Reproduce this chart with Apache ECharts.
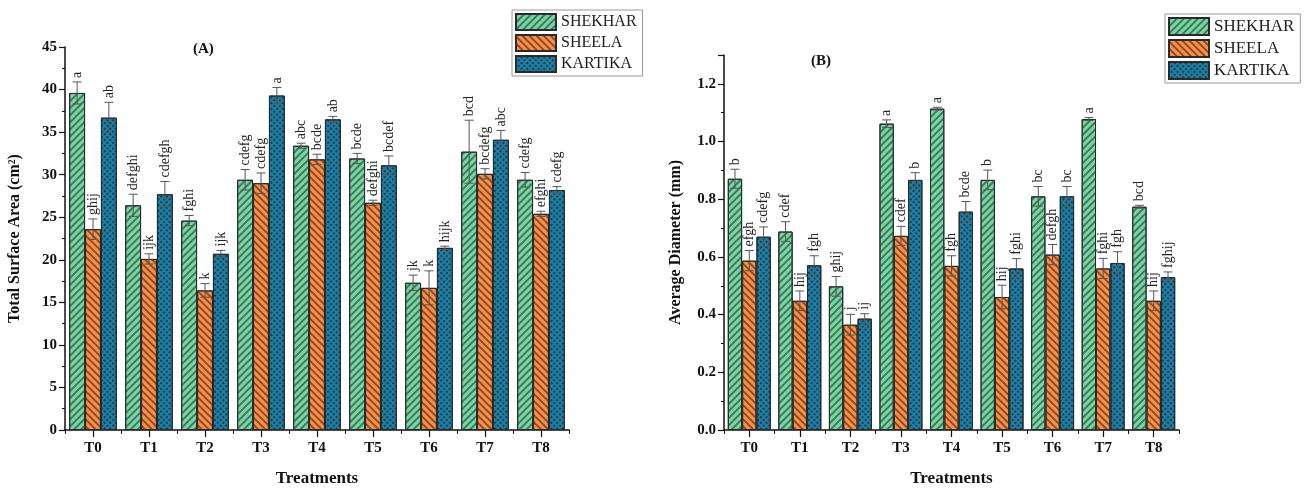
<!DOCTYPE html>
<html>
<head>
<meta charset="utf-8">
<script src="https://cdn.jsdelivr.net/npm/echarts@6/dist/echarts.min.js"></script>
<style>html,body{margin:0;padding:0;background:#fff;}#c{width:1312px;height:492px;}</style>
</head>
<body>
<div id="c"></div>
<script>
var categories = ['T0','T1','T2','T3','T4','T5','T6','T7','T8'];
var seriesNames = ['SHEKHAR','SHEELA','KARTIKA'];

var tsaShekhar = [39.6, 26.4, 24.6, 29.4, 33.4, 31.9, 17.3, 32.7, 29.4];
var tsaShekharErr = [1.3, 1.3, 0.6, 1.2, 0.3, 0.6, 0.9, 3.7, 0.85];
var tsaSheela = [23.6, 20.1, 16.4, 29.0, 31.8, 26.7, 16.7, 30.1, 25.4];
var tsaSheelaErr = [1.2, 0.6, 0.8, 1.2, 0.6, 0.3, 2.0, 0.6, 0.3];
var tsaKartika = [36.7, 27.7, 20.7, 39.3, 36.5, 31.1, 21.4, 34.1, 28.2];
var tsaKartikaErr = [1.8, 1.5, 0.4, 0.95, 0.35, 1.1, 0.2, 1.1, 0.4];
var tsaShekharLetters = ['a','defghi','fghi','cdefg','abc','bcde','jk','bcd','cdefg'];
var tsaSheelaLetters = ['ghij','ijk','k','cdefg','bcde','defghi','k','bcdefg','efghi'];
var tsaKartikaLetters = ['ab','cdefgh','ijk','a','ab','bcdef','hijk','abc','cdefg'];

var diaShekhar = [0.871, 0.688, 0.498, 1.062, 1.114, 0.867, 0.810, 1.078, 0.774];
var diaShekharErr = [0.033, 0.034, 0.034, 0.013, 0.005, 0.034, 0.034, 0.005, 0.005];
var diaSheela = [0.587, 0.448, 0.365, 0.673, 0.569, 0.461, 0.608, 0.560, 0.448];
var diaSheelaErr = [0.035, 0.034, 0.036, 0.033, 0.035, 0.041, 0.035, 0.035, 0.034];
var diaKartika = [0.670, 0.571, 0.386, 0.867, 0.757, 0.560, 0.810, 0.579, 0.530];
var diaKartikaErr = [0.034, 0.033, 0.017, 0.025, 0.035, 0.034, 0.034, 0.039, 0.018];
var diaShekharLetters = ['b','cdef','ghij','a','a','b','bc','a','bcd'];
var diaSheelaLetters = ['efgh','hij','j','cdef','fgh','hij','defgh','fghi','hij'];
var diaKartikaLetters = ['cdefg','fgh','ij','b','bcde','fghi','bc','fgh','fghij'];

var leftTicks = [0,5,10,15,20,25,30,35,40,45];

var FONT = 'Liberation Serif';
var fills = ['#7fd3a7', '#f5934e', '#1f7ea0'];
var decals = [
  {symbol:'rect', symbolSize:1, dashArrayX:[1,0], dashArrayY:[1.5,2.5], rotation:-Math.PI/4, color:'rgba(30,100,60,0.75)'},
  {symbol:'rect', symbolSize:1, dashArrayX:[1,0], dashArrayY:[1.5,2.5], rotation:Math.PI/4, color:'rgba(120,50,10,0.75)'},
  {symbol:'rect', symbolSize:1, dashArrayX:[[1.5,1.5]], dashArrayY:[1.5,1.5], rotation:Math.PI/4, color:'rgba(10,45,70,0.8)'}
];
var CAT_GAP = 0.15;

function barSeries(k, name, vals, xi, yi) {
  return {
    type:'bar', name:name, data:vals, xAxisIndex:xi, yAxisIndex:yi,
    barGap:'0%', barCategoryGap:(CAT_GAP*100)+'%',
    itemStyle:{color:fills[k], borderColor:'#2a2a2a', borderWidth:1, decal:decals[k]},
    emphasis:{disabled:true}, z:2
  };
}
function errSeries(k, vals, errs, letters, xi, yi) {
  var data = vals.map(function(v,i){ return [i, v, errs[i], letters[i]]; });
  return {
    type:'custom', xAxisIndex:xi, yAxisIndex:yi, z:5, silent:true,
    encode:{x:0, y:1},
    data:data,
    renderItem:function(params, api){
      var i = api.value(0), v = api.value(1), e = api.value(2);
      var lab = letters[i];
      var c = api.coord([i, v]);
      var catW = api.size([1,0])[0];
      var bw = catW*(1-CAT_GAP)/3;
      var x = c[0] + (k-1)*bw;
      var top = api.coord([i, v+e])[1];
      var bot = api.coord([i, v-e])[1];
      var cap = 4.5;
      var ls = {stroke:'#555', lineWidth:1};
      return {type:'group', children:[
        {type:'line', shape:{x1:x, y1:top, x2:x, y2:bot}, style:ls},
        {type:'line', shape:{x1:x-cap, y1:top, x2:x+cap, y2:top}, style:ls},
        {type:'line', shape:{x1:x-cap, y1:bot, x2:x+cap, y2:bot}, style:ls},
        {type:'text', x:x, y:top-4, rotation:Math.PI/2,
          style:{text:lab, textAlign:'left', textVerticalAlign:'middle', fill:'#222', font:'14px "'+FONT+'"'}}
      ]};
    }
  };
}

function yAxisCommon() {
  return {
    type:'value', min:0,
    axisLine:{show:true, lineStyle:{color:'#111', width:1.5}},
    axisTick:{show:true, length:6, lineStyle:{color:'#111', width:1.2}},
    minorTick:{show:true, splitNumber:2, length:3, lineStyle:{color:'#111', width:1}},
    splitLine:{show:false},
    axisLabel:{color:'#111', fontFamily:FONT, fontWeight:'bold', fontSize:15, margin:8},
    nameLocation:'middle', nameRotate:90,
    nameTextStyle:{color:'#111', fontFamily:FONT, fontWeight:'bold', fontSize:16}
  };
}
function xAxisMain(gi, gap) {
  return {
    type:'category', data:categories, gridIndex:gi, position:'bottom',
    axisLine:{show:true, lineStyle:{color:'#111', width:1.5}},
    axisTick:{show:true, alignWithLabel:true, length:7, lineStyle:{color:'#111', width:1.2}},
    axisLabel:{color:'#111', fontFamily:FONT, fontWeight:'bold', fontSize:15, margin:11},
    name:'Treatments', nameLocation:'middle', nameGap:gap,
    nameTextStyle:{color:'#111', fontFamily:FONT, fontWeight:'bold', fontSize:17}
  };
}
function xAxisMinor(gi) {
  return {
    type:'category', data:categories, gridIndex:gi, position:'bottom',
    axisLine:{show:false}, axisLabel:{show:false},
    axisTick:{show:true, length:4, lineStyle:{color:'#111', width:1}}
  };
}

var yL = yAxisCommon();
yL.gridIndex = 0; yL.max = 45; yL.interval = 5;
yL.name = 'Total Surface Area (cm\u00B2)'; yL.nameGap = 42;
yL.axisLabel.formatter = function(v){ return leftTicks.indexOf(v) >= 0 ? String(v) : ''; };

var yR = yAxisCommon();
yR.gridIndex = 1; yR.max = 1.3; yR.interval = 0.2;
yR.name = 'Average Diameter (mm)'; yR.nameGap = 40;
yR.axisLabel.showMaxLabel = false;
yR.axisLabel.formatter = function(v){ return v > 1.25 ? '' : v.toFixed(1); };

var legendCommon = {
  orient:'vertical', itemWidth:40, itemHeight:16, itemGap:3,
  padding:[3,6,3,3], borderColor:'#999', borderWidth:1, backgroundColor:'#fff',
  icon:'rect', selectedMode:false,
  textStyle:{fontFamily:FONT, fontSize:16, color:'#222'},
  data:seriesNames
};
var legL = Object.assign({}, legendCommon, {left:512, top:10});
var legR = Object.assign({}, legendCommon, {left:1165, top:14, itemHeight:17, textStyle:{fontFamily:FONT, fontSize:17, color:'#222'}});

var option = {
  animation:false,
  backgroundColor:'#fff',
  grid:[
    {left:65, right:743, top:47, bottom:56, containLabel:false},
    {left:724, right:133, top:55, bottom:57, containLabel:false}
  ],
  legend:[legL, legR],
  xAxis:[xAxisMain(0, 40), xAxisMinor(0), xAxisMain(1, 40), xAxisMinor(1)],
  yAxis:[yL, yR],
  graphic:[
    {type:'text', left:193, top:42, style:{text:'(A)', font:'bold 15px "'+FONT+'"', fill:'#111'}},
    {type:'text', left:811, top:54, style:{text:'(B)', font:'bold 15px "'+FONT+'"', fill:'#111'}}
  ],
  series:[
    barSeries(0, seriesNames[0], tsaShekhar, 0, 0),
    barSeries(1, seriesNames[1], tsaSheela, 0, 0),
    barSeries(2, seriesNames[2], tsaKartika, 0, 0),
    barSeries(0, seriesNames[0], diaShekhar, 2, 1),
    barSeries(1, seriesNames[1], diaSheela, 2, 1),
    barSeries(2, seriesNames[2], diaKartika, 2, 1),
    errSeries(0, tsaShekhar, tsaShekharErr, tsaShekharLetters, 0, 0),
    errSeries(1, tsaSheela, tsaSheelaErr, tsaSheelaLetters, 0, 0),
    errSeries(2, tsaKartika, tsaKartikaErr, tsaKartikaLetters, 0, 0),
    errSeries(0, diaShekhar, diaShekharErr, diaShekharLetters, 2, 1),
    errSeries(1, diaSheela, diaSheelaErr, diaSheelaLetters, 2, 1),
    errSeries(2, diaKartika, diaKartikaErr, diaKartikaLetters, 2, 1)
  ]
};
var chart = echarts.init(document.getElementById('c'), null, {renderer:'canvas'});
chart.setOption(option);
</script>
</body>
</html>
